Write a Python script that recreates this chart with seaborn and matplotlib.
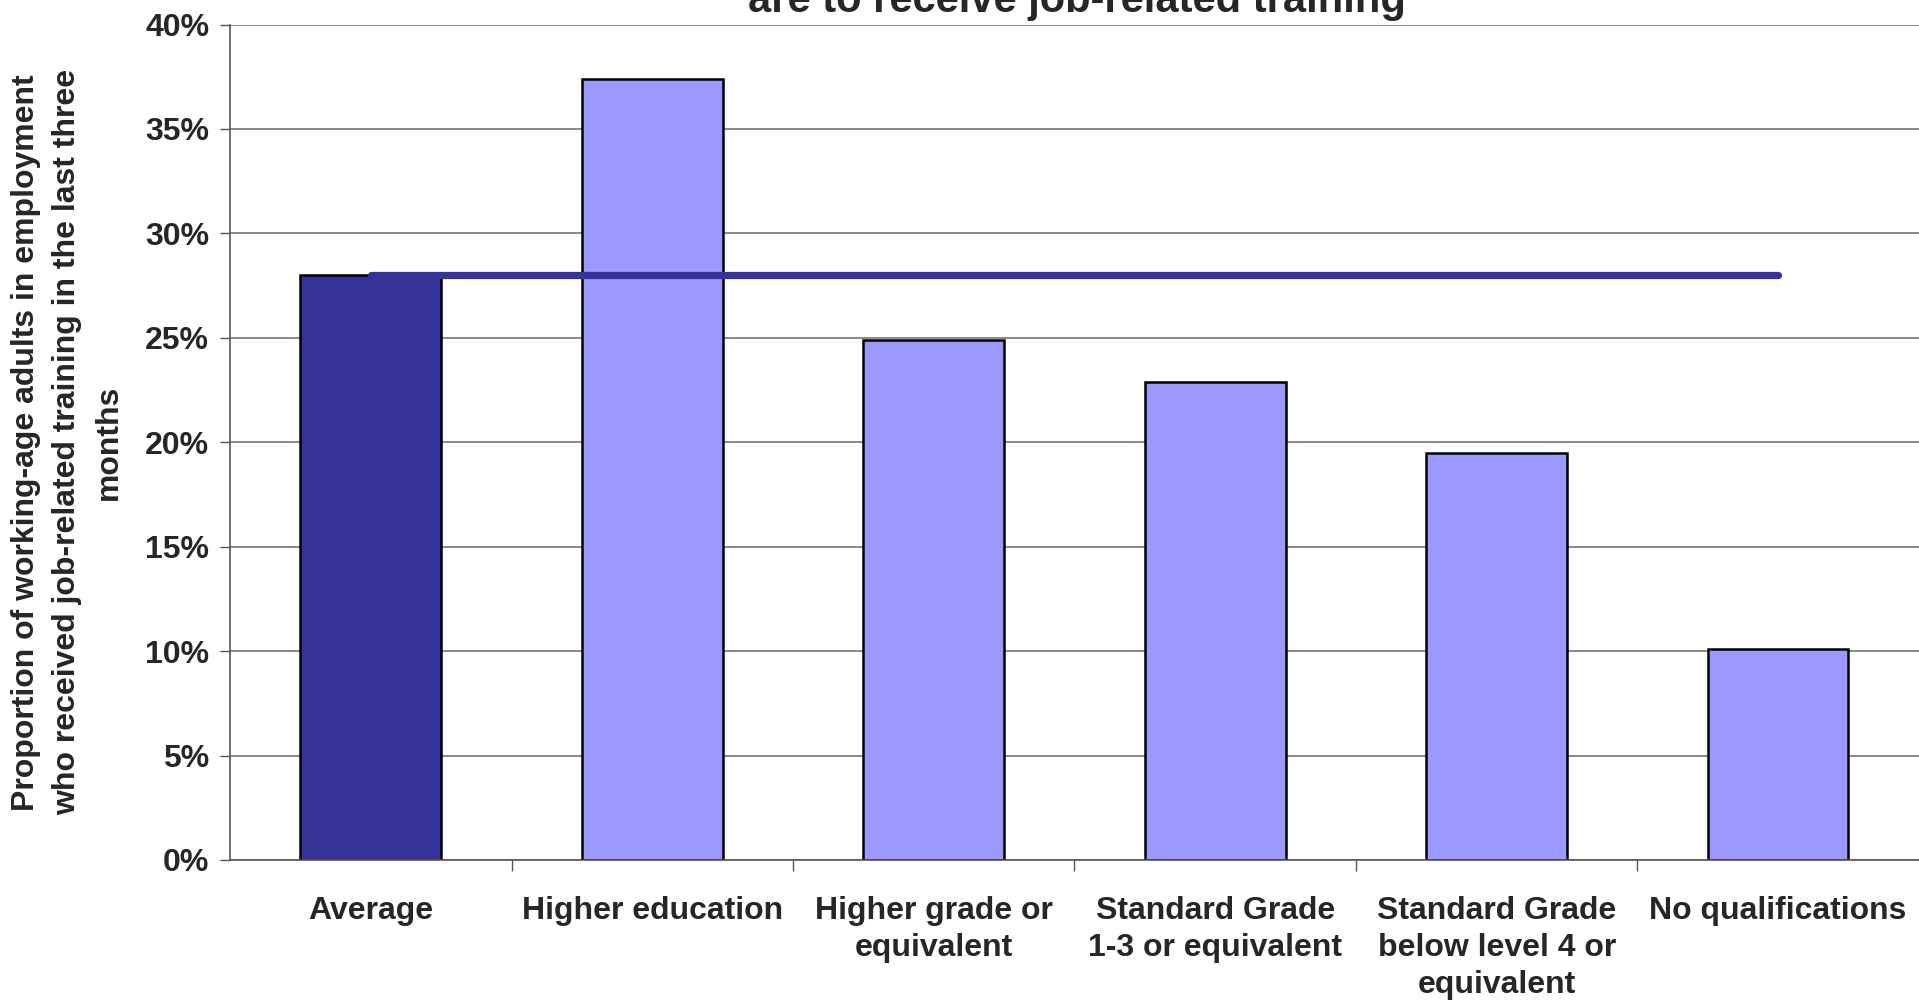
import numpy as np
import matplotlib
matplotlib.use("Agg")
import matplotlib.pyplot as plt
import seaborn as sns
from matplotlib.ticker import PercentFormatter, FixedLocator

categories = ["Average", "Higher education", "Higher grade or\nequivalent",
              "Standard Grade\n1-3 or equivalent",
              "Standard Grade\nbelow level 4 or\nequivalent", "No qualifications"]
values = [28.0, 37.4, 24.9, 22.9, 19.5, 10.1]
average = 28.0
bar_colors = ["#333399", "#9999FF", "#9999FF", "#9999FF", "#9999FF", "#9999FF"]

sns.set_style("white")
plt.rcParams["font.family"] = ["Liberation Sans", "DejaVu Sans"]
plt.rcParams["font.weight"] = "bold"

fig = plt.figure(figsize=(19.19, 10.05), dpi=100)
ax = fig.add_axes([0.1199, 0.1443, 0.88, 0.8313])

sns.barplot(x=categories, y=values, hue=categories, palette=bar_colors,
            width=0.5, edgecolor="black", linewidth=1.8, legend=False,
            ax=ax, zorder=2, saturation=1)

# average line across all categories
ax.plot([0, len(values) - 1], [average, average], color="#333399",
        lw=5.2, solid_capstyle="round", zorder=3)

ax.set_xlim(-0.5, len(values) - 0.5)
ax.set_ylim(0, 40)
ax.set_yticks(np.arange(0, 41, 5))
ax.yaxis.set_major_formatter(PercentFormatter(decimals=0))
ax.yaxis.grid(True, color="#808080", lw=1.3, zorder=0)
ax.set_axisbelow(True)

ax.xaxis.set_minor_locator(FixedLocator(np.arange(0.5, len(values) - 0.5, 1)))
ax.tick_params(axis="x", which="major", length=0, pad=26, labelsize=23)
ax.tick_params(axis="x", which="minor", length=8, width=1, color="#555555",
               direction="out", bottom=True)
ax.tick_params(axis="y", length=7, width=1, color="#555555", direction="out",
               left=True, labelsize=23, pad=8)
for lbl in ax.get_xticklabels():
    lbl.set_fontweight("bold")
    lbl.set_linespacing(1.3)
for lbl in ax.get_yticklabels():
    lbl.set_fontweight("bold")

for s in ["top", "right"]:
    ax.spines[s].set_visible(False)
for s in ["left", "bottom"]:
    ax.spines[s].set_color("#555555")
    ax.spines[s].set_linewidth(1.2)

ax.set_xlabel("")
ax.set_ylabel("Proportion of working-age adults in employment\n"
              "who received job-related training in the last three\nmonths",
              fontsize=23, fontweight="bold", linespacing=1.5, va="center")
ax.yaxis.set_label_coords(-0.0965, 0.5)

fig.text(0.561, 1 - 12 / 1005, "are to receive job-related training",
         fontsize=30, fontweight="bold", ha="center", va="baseline")

fig.savefig("out.png", dpi=100)
